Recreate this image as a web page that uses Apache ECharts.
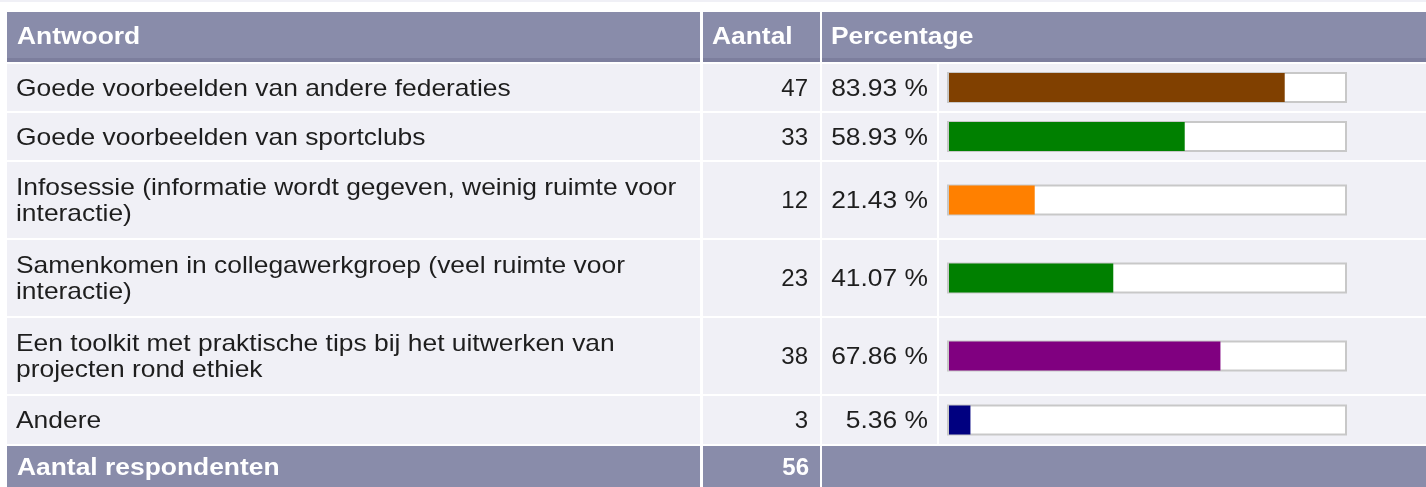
<!DOCTYPE html>
<html>
<head>
<meta charset="utf-8">
<title>Antwoord</title>
<script src="https://cdn.jsdelivr.net/npm/echarts@6/dist/echarts.min.js"></script>
<style>
  body { margin: 0; background: #fff; }
  #chart { width: 1426px; height: 487px; }
</style>
</head>
<body>
<div id="chart"></div>
<script>
// data
var answers = [
    'Goede voorbeelden van andere federaties',
    'Goede voorbeelden van sportclubs',
    'Infosessie (informatie wordt gegeven, weinig ruimte voor\ninteractie)',
    'Samenkomen in collegawerkgroep (veel ruimte voor\ninteractie)',
    'Een toolkit met praktische tips bij het uitwerken van\nprojecten rond ethiek',
    'Andere'
];
var counts = [47, 33, 12, 23, 38, 3];
var percentages = [83.93, 58.93, 21.43, 41.07, 67.86, 5.36];
var barColors = ['#804000', '#008000', '#ff8000', '#008000', '#800080', '#000080'];
var headers = ['Antwoord', 'Aantal', 'Percentage'];
var footerLabel = 'Aantal respondenten';
var respondents = 56;

// layout of the table
var rowTops = [64, 113, 162, 240, 318, 396];
var rowHeights = [47, 47, 76, 76, 76, 48];
var headColor = '#898caa';
var headDark = '#7c7e9d';
var cellColor = '#f0f0f6';
var font = 'Liberation Sans, Arial, sans-serif';
var fontSize = 24;
var wide = 1.1; // the original text runs a bit wider than Arial
var textDy = 1.5;

var chart = echarts.init(document.getElementById('chart'));

var graphic = [];
function addRect(x, y, w, h, fill) {
    graphic.push({ type: 'rect', shape: { x: x, y: y, width: w, height: h }, style: { fill: fill }, silent: true });
}
function addText(x, y, str, opts) {
    graphic.push({
        type: 'text', x: x, y: y + textDy, silent: true,
        scaleX: opts.scaleX || 1,
        style: {
            text: str,
            font: (opts.bold ? 'bold ' : '') + fontSize + 'px ' + font,
            fill: opts.color || '#1e1e1e',
            align: opts.align || 'left',
            verticalAlign: 'middle',
            lineHeight: 26
        }
    });
}

// top strip
addRect(0, 0, 1426, 2, cellColor);

// header
addRect(7, 12, 693, 50, headDark);
addRect(703, 12, 117, 50, headDark);
addRect(822, 12, 604, 50, headDark);
addRect(7, 12, 693, 46, headColor);
addRect(703, 12, 117, 46, headColor);
addRect(822, 12, 604, 46, headColor);
addText(17, 36, headers[0], { bold: true, color: '#fff', scaleX: wide });
addText(712, 36, headers[1], { bold: true, color: '#fff', scaleX: wide });
addText(831, 36, headers[2], { bold: true, color: '#fff', scaleX: wide });

// rows
var grids = [], xAxes = [], yAxes = [], series = [];
for (var i = 0; i < answers.length; i++) {
    var rowTop = rowTops[i], h = rowHeights[i], c = rowTop + h / 2;
    addRect(7, rowTop, 693, h, cellColor);
    addRect(703, rowTop, 117, h, cellColor);
    addRect(822, rowTop, 115, h, cellColor);
    addRect(939, rowTop, 487, h, cellColor);
    addText(16, c, answers[i], { scaleX: wide });
    addText(808, c, String(counts[i]), { align: 'right' });
    addText(928, c, percentages[i].toFixed(2) + ' %', { align: 'right', scaleX: wide });
    // bar frame
    addRect(947, c - 15.5, 400, 31, '#c8c8c8');
    addRect(949, c - 13.5, 396, 27, '#ffffff');

    grids.push({ left: 949, width: 400, top: c - 14.5, height: 29 });
    xAxes.push({ type: 'value', gridIndex: i, min: 0, max: 100, show: false });
    yAxes.push({ type: 'category', gridIndex: i, data: ['r' + i], show: false });
    series.push({
        type: 'bar',
        xAxisIndex: i,
        yAxisIndex: i,
        data: [percentages[i]],
        barWidth: 29,
        itemStyle: { color: barColors[i] },
        silent: true
    });
}

// footer
addRect(7, 446, 693, 41, headColor);
addRect(703, 446, 117, 41, headColor);
addRect(822, 446, 604, 41, headColor);
addText(17, 467, footerLabel, { bold: true, color: '#fff', scaleX: wide });
addText(809, 467, String(respondents), { bold: true, color: '#fff', align: 'right' });

var option = {
    backgroundColor: '#fff',
    animation: false,
    graphic: graphic,
    grid: grids,
    xAxis: xAxes,
    yAxis: yAxes,
    series: series
};
chart.setOption(option);
</script>
</body>
</html>
